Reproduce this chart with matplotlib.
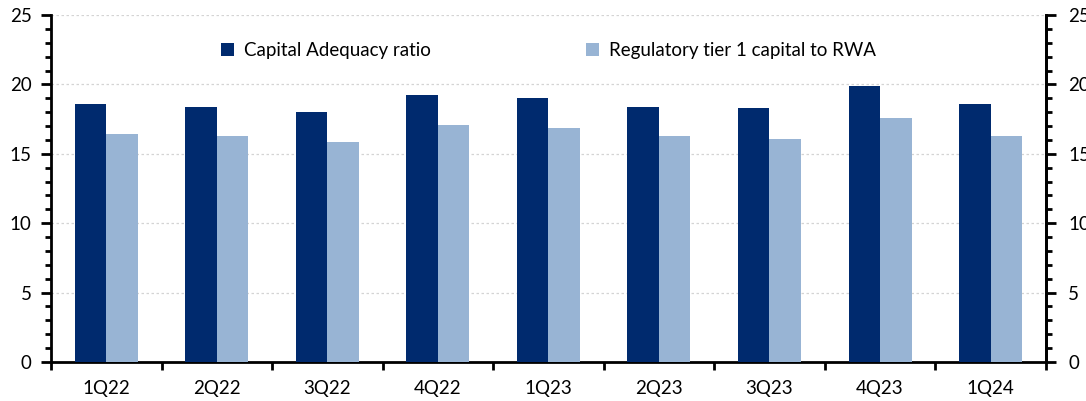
import numpy as np
import matplotlib.pyplot as plt
from matplotlib.ticker import MultipleLocator

quarters = ["1Q22", "2Q22", "3Q22", "4Q22", "1Q23", "2Q23", "3Q23", "4Q23", "1Q24"]
car = [18.6, 18.4, 18.0, 19.2, 19.0, 18.4, 18.3, 19.9, 18.6]
tier1 = [16.45, 16.25, 15.85, 17.05, 16.85, 16.25, 16.05, 17.55, 16.3]

plt.rcParams['font.family'] = ['Lato', 'DejaVu Sans']

fig = plt.figure(figsize=(10.86, 4.01), dpi=100)
ax = fig.add_axes([0.047, 0.0973, 0.916, 0.8653])

x = np.arange(len(quarters))
w = 0.285
ax.bar(x - w / 2, car, w, color='#002a6e', label='Capital Adequacy ratio', zorder=3)
ax.bar(x + w / 2, tier1, w, color='#98b4d4', label='Regulatory tier 1 capital to RWA', zorder=3)

ax.set_xlim(-0.5, len(quarters) - 0.5)
ax.set_ylim(0, 25)
ax.yaxis.set_major_locator(MultipleLocator(5))
ax.yaxis.set_minor_locator(MultipleLocator(1))
ax.yaxis.grid(True, which='major', color='#d4d4d4', linestyle=(0, (2, 2)), linewidth=0.9, zorder=0)

ax.set_xticks(x)
ax.set_xticklabels(quarters)
ax.set_xticks(np.arange(len(quarters) + 1) - 0.5, minor=True)
ax.tick_params(axis='x', which='major', length=0, labelsize=13.5, pad=13)
ax.tick_params(axis='x', which='minor', length=6, width=2, direction='out')
ax.tick_params(axis='y', which='major', length=7, width=2, labelsize=13.5, pad=7)
ax.tick_params(axis='y', which='minor', length=4, width=2)

ax.spines['top'].set_visible(False)
for s in ['left', 'bottom', 'right']:
    ax.spines[s].set_linewidth(2)

ax2 = ax.twinx()
ax2.set_ylim(0, 25)
ax2.yaxis.set_major_locator(MultipleLocator(5))
ax2.yaxis.set_minor_locator(MultipleLocator(1))
ax2.tick_params(axis='y', which='major', length=7, width=2, labelsize=13.5, pad=9)
ax2.tick_params(axis='y', which='minor', length=4, width=2)
for s in ['top', 'left', 'bottom']:
    ax2.spines[s].set_visible(False)
ax2.spines['right'].set_linewidth(2)

ax.legend(loc='upper center', bbox_to_anchor=(0.5, 0.97), ncol=2, frameon=False,
          fontsize=13.5, handlelength=0.7, handleheight=0.7, handletextpad=0.5,
          columnspacing=8.3)

fig.savefig('out.png', dpi=100)
